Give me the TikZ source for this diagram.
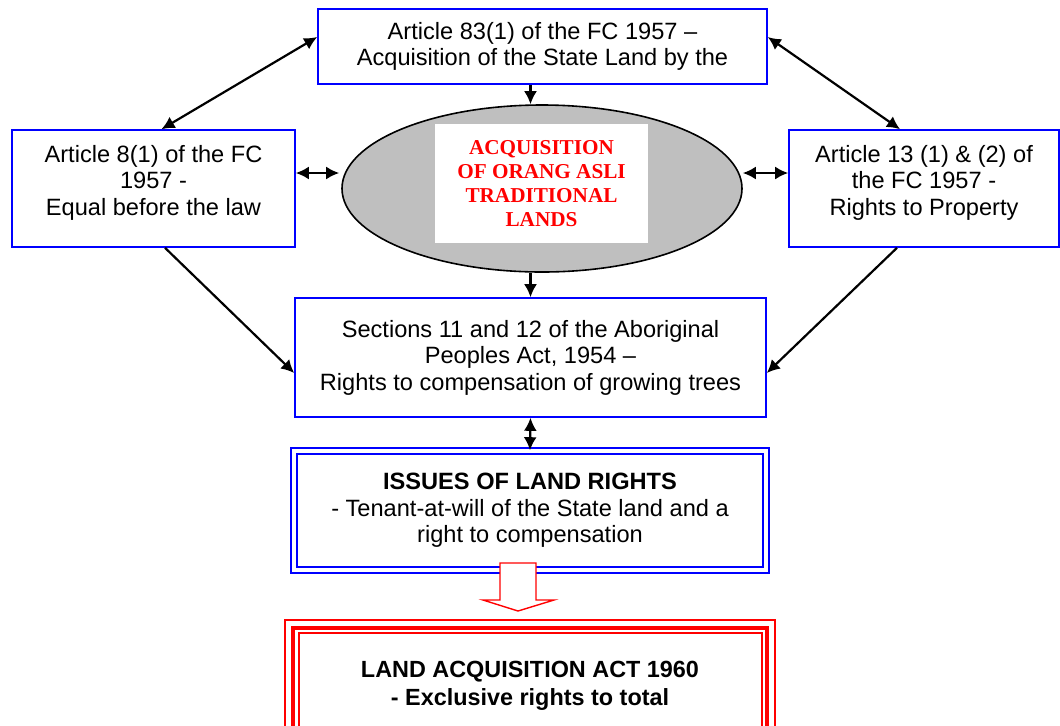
\documentclass[tikz,border=0pt]{standalone}
\usepackage{fontspec}
\setmainfont{Liberation Sans}
\newfontfamily\tnrfont{Liberation Serif}
\usetikzlibrary{arrows.meta,shapes.geometric,calc}

\tikzset{
    bluebox/.style={draw=blue, line width=0.8pt, fill=white, align=center,
        font=\fontsize{11.8}{13.2}\selectfont, inner sep=0pt},
    dblarr/.style={{Latex[length=6.5pt,width=6.5pt]}-{Latex[length=6.5pt,width=6.5pt]}, line width=1.1pt},
    onearr/.style={-{Latex[length=6.5pt,width=6.5pt]}, line width=1.1pt}
}

\begin{document}
\begin{tikzpicture}[x=0.5pt,y=-0.5pt]
            % rand
            \useasboundingbox (0,0) rectangle (1060,725);

            % kaesten oben
            \node[bluebox, minimum width=224.5pt, minimum height=37.5pt] (top) at (542.5,46.5)
                {Article 83(1) of the FC 1957 --\\Acquisition of the State Land by the};
            \node[bluebox, minimum width=141.5pt, minimum height=58.5pt] (left) at (153.5,188.5)
                {Article 8(1) of the FC\\1957 -\\Equal before the law\\[-5pt]};
            \node[bluebox, minimum width=135pt, minimum height=58.5pt] (right) at (924,188.5)
                {Article 13 (1) \& (2) of\\the FC 1957 -\\Rights to Property\\[-5pt]};

            % ellipse in der mitte
            \node[ellipse, draw, line width=0.8pt, fill=black!25, minimum width=200pt, minimum height=83.5pt] (ell) at (542,188.5) {};
            \node[fill=white, minimum width=106.5pt, minimum height=59.5pt, align=center, text=red,
                font=\tnrfont\bfseries\fontsize{10.6}{12}\selectfont] (elltxt) at (541.5,183.5)
                {ACQUISITION\\OF ORANG ASLI\\TRADITIONAL\\LANDS};

            % sections 11 und 12
            \node[bluebox, minimum width=235.5pt, minimum height=59.5pt] (sect) at (530.5,357.5)
                {Sections 11 and 12 of the Aboriginal\\Peoples Act, 1954 --\\Rights to compensation of growing trees};

            % issues
            \node[bluebox, double=white, double distance=2pt, minimum width=236pt, minimum height=59.5pt] (issues) at (530,510.5)
                {{\bfseries ISSUES OF LAND RIGHTS}\\- Tenant-at-will of the State land and a\\right to compensation};

            % land acquisition act
            \node[draw=red, line width=2pt, minimum width=237pt, minimum height=58pt, align=center,
                font=\bfseries\fontsize{11.7}{14}\selectfont] (lac) at (530,686)
                {LAND ACQUISITION ACT 1960\\- Exclusive rights to total};
            \draw[red, line width=0.7pt] ([shift={(-6,-6)}]lac.north west) rectangle ([shift={(6,6)}]lac.south east);
            \draw[red, line width=0.7pt] ([shift={(8,7)}]lac.north west) rectangle ([shift={(-7,-7)}]lac.south east);

            % hohler pfeil
            \draw[red, fill=white, line width=0.7pt] (500,563) -- (536,563) -- (536,600) -- (554,600)
                -- (518,611) -- (483,600) -- (500,600) -- cycle;

            % pfeile
            \draw[onearr] (top.south -| sect) -- (ell.north -| sect);
            \draw[onearr] (ell.south -| sect) -- (sect.north);
            \draw[dblarr] (sect.south) -- (issues.north);
            \draw[dblarr] ([shift={(0,-15.5)}]left.east) -- ([shift={(-2,-15.5)}]ell.west);
            \draw[dblarr] ([shift={(0,-15.5)}]ell.east) -- ([shift={(0,-15.5)}]right.west);
            \draw[dblarr] ([shift={(0,-9.5)}]top.west) -- ([shift={(8,0)}]left.north);
            \draw[dblarr] ([shift={(0,-9.5)}]top.east) -- ([shift={(-24,0)}]right.north);
            \draw[onearr] ([shift={(11.5,0)}]left.south) -- ([shift={(0,15.5)}]sect.west);
            \draw[onearr] ([shift={(-27,0)}]right.south) -- ([shift={(0,15.5)}]sect.east);
\end{tikzpicture}
\end{document}
